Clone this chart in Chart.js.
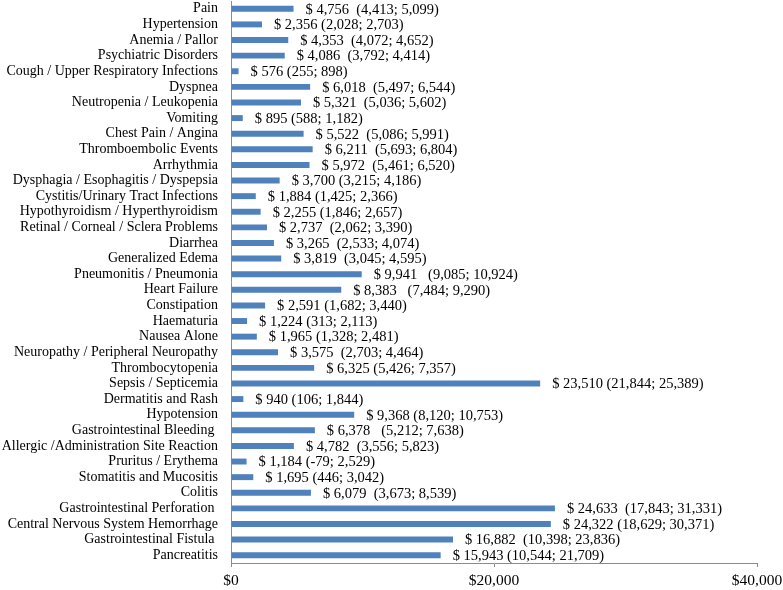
<!DOCTYPE html>
<html>
<head>
<meta charset="utf-8">
<script src="https://cdn.jsdelivr.net/npm/chart.js@4"></script>
<style>
    html, body { margin: 0; padding: 0; background: #fff; }
    #wrap { width: 783px; height: 590px; }
</style>
</head>
<body>
<div id="wrap"><canvas id="chart" width="783" height="590"></canvas></div>
<script>
const CATEGORIES = [
    'Pain', 'Hypertension', 'Anemia / Pallor', 'Psychiatric Disorders',
    'Cough / Upper Respiratory Infections', 'Dyspnea', 'Neutropenia / Leukopenia',
    'Vomiting', 'Chest Pain / Angina', 'Thromboembolic Events', 'Arrhythmia',
    'Dysphagia / Esophagitis / Dyspepsia', 'Cystitis/Urinary Tract Infections',
    'Hypothyroidism / Hyperthyroidism', 'Retinal / Corneal / Sclera Problems',
    'Diarrhea', 'Generalized Edema', 'Pneumonitis / Pneumonia', 'Heart Failure',
    'Constipation', 'Haematuria', 'Nausea Alone', 'Neuropathy / Peripheral Neuropathy',
    'Thrombocytopenia', 'Sepsis / Septicemia', 'Dermatitis and Rash', 'Hypotension',
    'Gastrointestinal Bleeding ', 'Allergic /Administration Site Reaction',
    'Pruritus / Erythema', 'Stomatitis and Mucositis', 'Colitis',
    'Gastrointestinal Perforation ', 'Central Nervous System Hemorrhage',
    'Gastrointestinal Fistula ', 'Pancreatitis',
];

const COSTS = [
    4756, 2356, 4353, 4086, 576, 6018, 5321, 895, 5522, 6211, 5972, 3700,
    1884, 2255, 2737, 3265, 3819, 9941, 8383, 2591, 1224, 1965, 3575, 6325,
    23510, 940, 9368, 6378, 4782, 1184, 1695, 6079, 24633, 24322, 16882, 15943,
];

const LOWER = [
    4413, 2028, 4072, 3792, 255, 5497, 5036, 588, 5086, 5693, 5461, 3215,
    1425, 1846, 2062, 2533, 3045, 9085, 7484, 1682, 313, 1328, 2703, 5426,
    21844, 106, 8120, 5212, 3556, -79, 446, 3673, 17843, 18629, 10398, 10544,
];

const UPPER = [
    5099, 2703, 4652, 4414, 898, 6544, 5602, 1182, 5991, 6804, 6520, 4186,
    2366, 2657, 3390, 4074, 4595, 10924, 9290, 3440, 2113, 2481, 4464, 7357,
    25389, 1844, 10753, 7638, 5823, 2529, 3042, 8539, 31331, 30371, 23836, 21709,
];

// spaces between the cost and the bracket, as typed in the source labels
const GAPS = [
    2, 1, 2, 2, 1, 2, 2, 1, 2, 2, 2, 1,
    1, 1, 2, 2, 2, 3, 3, 1, 1, 1, 2, 1,
    1, 1, 1, 3, 2, 1, 1, 2, 2, 1, 2, 1,
];

const X_MIN = 0;
const X_MAX = 40000;
const X_STEP = 20000;

const FONT = '"Liberation Serif", "Times New Roman", serif';
const fmt = n => n.toLocaleString('en-US');

const costLabels = {
    id: 'costLabels',
    afterDatasetsDraw(chart) {
        const { ctx } = chart;
        const meta = chart.getDatasetMeta(0);
        ctx.save();
        ctx.font = '14.5px ' + FONT;
        ctx.fillStyle = '#000';
        ctx.textBaseline = 'middle';
        ctx.textAlign = 'left';
        meta.data.forEach((bar, i) => {
            const text = '$ ' + fmt(COSTS[i]) + '\u00a0'.repeat(GAPS[i] - 1) + ' (' +
                fmt(LOWER[i]) + '; ' + fmt(UPPER[i]) + ')';
            ctx.fillText(text, bar.x + 12, bar.y + 1);
        });
        ctx.restore();
    },
};

new Chart(document.getElementById('chart'), {
    type: 'bar',
    data: {
        labels: CATEGORIES,
        datasets: [{
            data: COSTS,
            backgroundColor: '#4f81bd',
            borderWidth: 0,
            barPercentage: 0.76,
            categoryPercentage: 0.5,
        }],
    },
    options: {
        indexAxis: 'y',
        responsive: false,
        animation: false,
        layout: { padding: { top: 1, right: 26, left: 0, bottom: 0 } },
        plugins: {
            legend: { display: false },
            tooltip: { enabled: false },
        },
        scales: {
            x: {
                min: X_MIN,
                max: X_MAX,
                afterFit: s => {
                    s.height = 27;
                    s.paddingLeft = 0;
                    s.paddingRight = 0;
                },
                grid: {
                    drawOnChartArea: false,
                    drawTicks: true,
                    tickLength: 4,
                    color: '#8c8c8c',
                },
                border: { color: '#8c8c8c' },
                ticks: {
                    stepSize: X_STEP,
                    color: '#000',
                    padding: 5,
                    maxRotation: 0,
                    font: { family: FONT, size: 15.5 },
                    callback: v => '$' + fmt(v),
                },
            },
            y: {
                afterFit: s => {
                    s.width = 231;
                    s.paddingTop = 0;
                    s.paddingBottom = 0;
                },
                grid: { display: false, drawTicks: false },
                border: { color: '#8c8c8c' },
                ticks: {
                    color: '#000',
                    autoSkip: false,
                    padding: 13,
                    font: { family: FONT, size: 14 },
                },
            },
        },
    },
    plugins: [costLabels],
});
</script>
</body>
</html>
